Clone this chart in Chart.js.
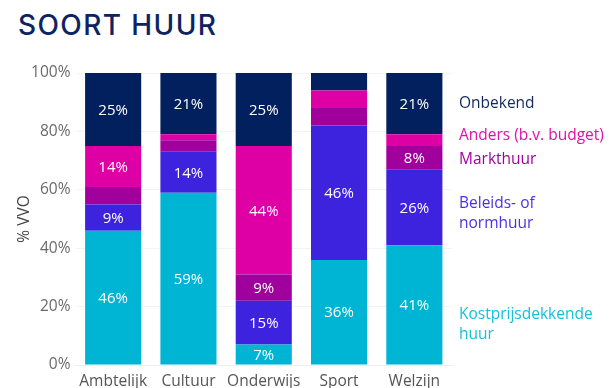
<!DOCTYPE html>
<html>
<head>
<meta charset="utf-8">
<script src="https://cdn.jsdelivr.net/npm/chart.js@4.4.1/dist/chart.umd.min.js"></script>
<style>
    html, body { margin: 0; padding: 0; background: #fff; }
    #wrap { position: relative; width: 612px; height: 388px; }
    #title {
        position: absolute; left: 18px; top: 8px;
        font-family: "Inter", sans-serif; font-weight: 500;
        font-size: 28px; color: #0c2461; letter-spacing: 1.4px;
    }
    canvas { position: absolute; left: 0; top: 0; }
</style>
</head>
<body>
<div id="wrap">
    <div id="title">SOORT HUUR</div>
    <canvas id="chart" width="612" height="388"></canvas>
</div>
<script>
// categorieën en reeksen (percentages VVO)
const categories = ['Ambtelijk', 'Cultuur', 'Onderwijs', 'Sport', 'Welzijn'];
const kostprijs = [46, 59, 7, 36, 41];
const beleids = [9, 14, 15, 46, 26];
const markt = [6, 4, 9, 6, 8];
const anders = [14, 2, 44, 6, 4];
const onbekend = [25, 21, 25, 6, 21];
const yTicks = [0, 20, 40, 60, 80, 100];

const seriesNames = [['Kostprijsdekkende', 'huur'], ['Beleids- of', 'normhuur'], ['Markthuur'], ['Anders (b.v. budget)'], ['Onbekend']];
const barColors = ['#00b4d4', '#3d22de', '#a0009c', '#de00a4', '#02205e'];
const textColors = ['#16c0da', '#4a32e6', '#a3009f', '#e010a8', '#14295e'];
// waar de legenda-teksten staan (in % op de y-as)
const legendAt = [13.7, 51.8, 70.3, 78.5, 89.5];

const FONT = '"Open Sans", sans-serif';

const valueLabels = {
    id: 'valueLabels',
    afterDatasetsDraw(chart) {
        const ctx = chart.ctx;
        ctx.save();
        ctx.fillStyle = '#fff';
        ctx.font = '15px ' + FONT;
        ctx.textAlign = 'center';
        ctx.textBaseline = 'middle';
        chart.data.datasets.forEach((ds, i) => {
            const meta = chart.getDatasetMeta(i);
            meta.data.forEach((bar, j) => {
                const v = ds.data[j];
                if (v < 7) return;
                const mid = (bar.y + bar.base) / 2;
                ctx.fillText(v + '%', bar.x, mid + 1);
            });
        });
        ctx.restore();
    }
};

const sideLegend = {
    id: 'sideLegend',
    afterDraw(chart) {
        const ctx = chart.ctx;
        const y = chart.scales.y;
        const x0 = chart.chartArea.right + 7;
        ctx.save();
        ctx.font = '15.5px ' + FONT;
        ctx.textAlign = 'left';
        ctx.textBaseline = 'middle';
        seriesNames.forEach((lines, i) => {
            ctx.fillStyle = textColors[i];
            const c = y.getPixelForValue(legendAt[i]);
            const lh = 20;
            const start = c - (lines.length - 1) * lh / 2;
            lines.forEach((t, k) => ctx.fillText(t, x0, start + k * lh));
        });
        ctx.restore();
    }
};

const datasets = [kostprijs, beleids, markt, anders, onbekend].map((d, i) => ({
    label: seriesNames[i].join(' '),
    data: d,
    backgroundColor: barColors[i],
    borderWidth: 0,
    barPercentage: 0.745,
    categoryPercentage: 1
}));

new Chart(document.getElementById('chart'), {
    type: 'bar',
    data: { labels: categories, datasets },
    options: {
        responsive: false,
        animation: false,
        layout: { padding: { top: 73, right: 160, left: 0, bottom: 0 } },
        plugins: {
            legend: { display: false },
            tooltip: { enabled: false }
        },
        scales: {
            x: {
                stacked: true,
                grid: { display: false },
                border: { color: '#eeeeee' },
                ticks: {
                    color: '#555',
                    font: { family: FONT, size: 15.5 },
                    padding: -1,
                    maxRotation: 0,
                    minRotation: 0,
                    autoSkip: false
                },
                afterFit(scale) { scale.height = 23; }
            },
            y: {
                stacked: true,
                min: 0,
                max: 100,
                afterBuildTicks(scale) { scale.ticks = yTicks.map(v => ({ value: v })); },
                grid: { color: '#f3f3f3', drawTicks: false },
                border: { display: false },
                ticks: {
                    color: '#6a6a6a',
                    font: { family: FONT, size: 15.5 },
                    padding: 5,
                    callback: v => v + '%'
                },
                title: {
                    display: true,
                    text: '% VVO',
                    color: '#444',
                    font: { family: FONT, size: 15.5 },
                    padding: { top: 15, bottom: 0 }
                },
                afterFit(scale) { scale.width = 75.5; }
            }
        }
    },
    plugins: [valueLabels, sideLegend]
});
</script>
</body>
</html>
